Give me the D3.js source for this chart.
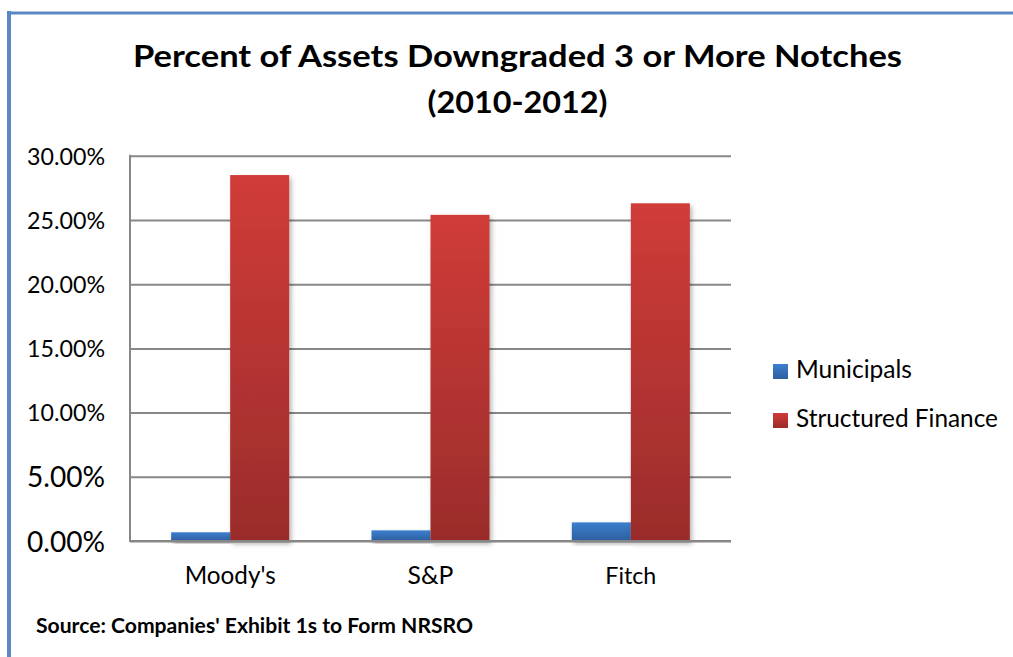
<!DOCTYPE html>
<html>
<head>
<meta charset="utf-8">
<script src="https://cdn.jsdelivr.net/npm/d3@7"></script>
<style>
  html, body { margin: 0; padding: 0; background: #fff; }
  svg { display: block; }
  text { font-family: Lato, "Open Sans", sans-serif; fill: #000; }
</style>
</head>
<body>
<svg id="chart" width="1013" height="657"></svg>
<script>
// ---- data ----
const categories = ["Moody's", "S&P", "Fitch"];
const seriesNames = ["Municipals", "Structured Finance"];
const municipals = [0.0068, 0.0083, 0.0145];
const structuredFinance = [0.285, 0.254, 0.263];
const yTicks = [0, 0.05, 0.10, 0.15, 0.20, 0.25, 0.30];
const titleLines = ["Percent of Assets Downgraded 3 or More Notches", "(2010-2012)"];
const sourceText = "Source: Companies' Exhibit 1s to Form NRSRO";

const seriesValues = [municipals, structuredFinance];
const svg = d3.select("#chart");
const W = 1013, H = 657;
const plot = { left: 130, right: 731, top: 155.8, bottom: 541 };

// fit text horizontally to a target width by adjusting font-size
function fit(sel, target) {
  const node = sel.node();
  const fs = parseFloat(sel.attr("font-size"));
  const w = node.getComputedTextLength();
  if (w > 0) sel.attr("font-size", (fs * target / w).toFixed(2));
  return sel;
}

// defs: gradients + shadow
const defs = svg.append("defs");
const grads = [
  { id: "gBlue", top: "#3c7fd0", bottom: "#2d5f9e" },
  { id: "gRed", top: "#d03c38", bottom: "#9a2c2b" }
];
grads.forEach(g => {
  const lg = defs.append("linearGradient").attr("id", g.id)
    .attr("x1", 0).attr("y1", 0).attr("x2", 0).attr("y2", 1);
  lg.append("stop").attr("offset", "0%").attr("stop-color", g.top);
  lg.append("stop").attr("offset", "100%").attr("stop-color", g.bottom);
});
const f = defs.append("filter").attr("id", "shadow")
  .attr("x", "-20%").attr("y", "-5%").attr("width", "150%").attr("height", "130%");
f.append("feDropShadow").attr("dx", 2).attr("dy", 3).attr("stdDeviation", 2.5)
  .attr("flood-color", "#000").attr("flood-opacity", 0.3);

// border
svg.append("rect").attr("x", 0).attr("y", 0).attr("width", W).attr("height", H).attr("fill", "#fff");
svg.append("line").attr("x1", 9).attr("x2", 9).attr("y1", 11).attr("y2", H)
  .attr("stroke", "#5b87c4").attr("stroke-width", 4);
svg.append("line").attr("x1", 7).attr("x2", W).attr("y1", 13).attr("y2", 13)
  .attr("stroke", "#5b87c4").attr("stroke-width", 3);

// scales
const x0 = d3.scaleBand().domain(categories).range([plot.left, plot.right]).padding(0);
const x1 = d3.scaleBand().domain(seriesNames).range([0, x0.bandwidth()])
  .paddingInner(0).paddingOuter(0.697);
const y = d3.scaleLinear().domain([0, 0.30]).range([plot.bottom, plot.top]);
const fmt = d3.format(".2%");

// gridlines
const grid = svg.append("g").attr("transform", `translate(${plot.left},0)`)
  .call(d3.axisLeft(y).tickValues(yTicks).tickSize(-(plot.right - plot.left)).tickFormat(""));
grid.select(".domain").remove();
grid.selectAll("line").attr("stroke", "#878787").attr("stroke-width", 2);

// y axis line
svg.append("line").attr("x1", plot.left).attr("x2", plot.left)
  .attr("y1", plot.top - 1).attr("y2", plot.bottom + 1)
  .attr("stroke", "#878787").attr("stroke-width", 2);

// y labels
const yAxis = svg.append("g").attr("transform", `translate(105,0)`)
  .call(d3.axisLeft(y).tickValues(yTicks).tickSize(0).tickPadding(0).tickFormat(fmt));
yAxis.select(".domain").remove();
yAxis.selectAll("text").attr("font-size", 21).attr("font-family", "Lato, sans-serif")
  .attr("fill", "#000").attr("dy", "0.36em").attr("text-anchor", "end");
yAxis.selectAll("text").each(function () { fit(d3.select(this), 78); });

// bars
const groups = svg.append("g").selectAll("g").data(categories).join("g")
  .attr("transform", d => `translate(${x0(d)},0)`);
groups.selectAll("rect")
  .data((d, i) => seriesNames.map((s, j) => ({ s, v: seriesValues[j][i], j })))
  .join("rect")
  .attr("x", d => x1(d.s))
  .attr("width", x1.bandwidth())
  .attr("y", d => y(d.v))
  .attr("height", d => y(0) - y(d.v))
  .attr("fill", d => d.j === 0 ? "url(#gBlue)" : "url(#gRed)")
  .attr("filter", "url(#shadow)");

// baseline drawn over bars
svg.append("line").attr("x1", plot.left - 1).attr("x2", plot.right)
  .attr("y1", y(0)).attr("y2", y(0)).attr("stroke", "#878787").attr("stroke-width", 2);

// x labels
const xAxis = svg.append("g").attr("transform", `translate(0,584)`)
  .call(d3.axisBottom(x0).tickSize(0).tickPadding(0));
xAxis.select(".domain").remove();
xAxis.selectAll("text").attr("font-size", 21).attr("font-family", "Lato, sans-serif")
  .attr("fill", "#000").attr("dy", 0);
const xWidths = { "Moody's": 91, "S&P": 46, "Fitch": 51 };
xAxis.selectAll("text").each(function (d) { fit(d3.select(this), xWidths[d]); });

// title
const titleY = [67, 113];
const titleW = [769, 180];
const titleFs = [29.5, 30.5];
titleLines.forEach((t, i) => {
  svg.append("text").attr("x", 517.5).attr("y", titleY[i])
    .attr("text-anchor", "middle").attr("font-weight", "bold").attr("font-size", titleFs[i])
    .attr("textLength", titleW[i]).attr("lengthAdjust", "spacingAndGlyphs").text(t);
});

// legend
const legend = svg.append("g");
const legY = [378, 427];
const legW = [116, 202];
seriesNames.forEach((s, i) => {
  legend.append("rect").attr("x", 773).attr("y", legY[i] - 14).attr("width", 15).attr("height", 15)
    .attr("fill", i === 0 ? "url(#gBlue)" : "url(#gRed)");
  const t = legend.append("text").attr("x", 796).attr("y", legY[i]).attr("font-size", 21).text(s);
  fit(t, legW[i]);
});

// source
svg.append("text").attr("x", 36).attr("y", 633).attr("font-weight", "bold")
  .attr("font-size", 21).attr("textLength", 437).attr("lengthAdjust", "spacingAndGlyphs")
  .text(sourceText);
</script>
</body>
</html>
